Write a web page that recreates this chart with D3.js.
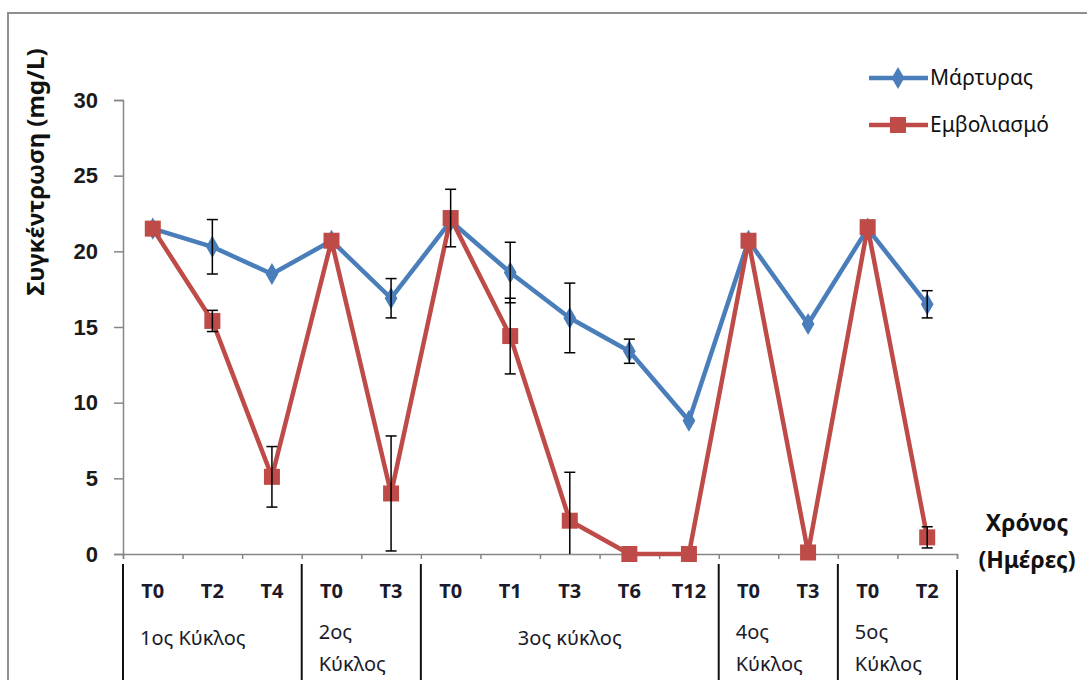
<!DOCTYPE html>
<html><head><meta charset="utf-8">
<script src="https://cdn.jsdelivr.net/npm/d3@7"></script>
<style>
html,body{margin:0;padding:0;background:#fff;}
svg{display:block;font-family:"Noto Sans","DejaVu Sans",sans-serif;}
</style></head>
<body>
<svg id="chart" width="1087" height="680"></svg>
<script>
// ---- data ----
const categories = ["T0","T2","T4","T0","T3","T0","T1","T3","T6","T12","T0","T3","T0","T2"];
const groupLabels = [["1ος Κύκλος"],["2ος","Κύκλος"],["3ος κύκλος"],["4ος","Κύκλος"],["5ος","Κύκλος"]];
const groupSizes = [3,2,5,2,2];
const controlValues = [21.5,20.3,18.5,20.7,16.9,22.0,18.6,15.6,13.4,8.8,20.7,15.2,21.5,16.5];
const controlErrors = [0,1.8,0,0,1.3,0,2.0,2.3,0.8,0,0,0,0,0.9];
const vaccValues = [21.5,15.4,5.1,20.7,4.0,22.2,14.4,2.2,0,0,20.7,0.1,21.6,1.1];
const vaccErrors = [0,0.7,2.0,0,3.8,1.9,2.5,3.2,0,0,0,0,0,0.7];
const seriesNames = ["Μάρτυρας","Εμβολιασμό"];
const yTicks = [0,5,10,15,20,25,30];

const svg = d3.select("#chart");
const blue = "#4a7ebb", red = "#be4b48";
const x0 = 123, x1 = 957, yTop = 100, yBot = 554;

const x = d3.scaleBand().domain(d3.range(categories.length)).range([x0,x1]);
const xb = d3.scaleLinear().domain([0,categories.length]).range([x0,x1]);
const y = d3.scaleLinear().domain([0,30]).range([yBot,yTop]);

// outer frame
svg.append("path").attr("d",`M8,680 L8,13 L1087,13`).attr("fill","none")
  .attr("stroke","#8f8f8f").attr("stroke-width",2);

// y axis
const ya = svg.append("g").attr("transform",`translate(${x0},0)`)
  .call(d3.axisLeft(y).tickValues(yTicks).tickSize(9).tickPadding(16));
ya.select(".domain").attr("stroke","#868686").attr("stroke-width",1.5);
ya.selectAll(".tick line").attr("stroke","#868686").attr("stroke-width",1.5);
ya.selectAll(".tick text").attr("font-size",22).attr("font-weight","bold").attr("fill","#1a1a1a");

// x axis (boundary ticks)
const xa = svg.append("g").attr("transform",`translate(0,${yBot})`)
  .call(d3.axisBottom(xb).tickValues(d3.range(categories.length+1)).tickSize(5).tickFormat(""));
xa.select(".domain").attr("stroke","#868686").attr("stroke-width",1.5);
xa.selectAll(".tick line").attr("stroke","#868686").attr("stroke-width",1.5);

// category labels
svg.append("g").selectAll("text").data(categories).join("text")
  .attr("x",(d,i)=>x(i)+x.bandwidth()/2).attr("y",598)
  .attr("text-anchor","middle").attr("font-size",20).attr("font-weight","bold")
  .attr("fill","#1a1a2a").text(d=>d);

// group separators and labels
let starts = [0];
groupSizes.forEach((s,i)=>starts.push(starts[i]+s));
svg.append("g").selectAll("line").data(starts).join("line")
  .attr("x1",d=>xb(d)).attr("x2",d=>xb(d))
  .attr("y1",(d,i)=>i===starts.length-1?570:564).attr("y2",680)
  .attr("stroke","#111").attr("stroke-width",2);

const gl = svg.append("g");
groupLabels.forEach((lines,i)=>{
  const left = xb(starts[i]);
  const mid = (xb(starts[i])+xb(starts[i+1]))/2;
  const centered = lines.length===1 && i===2;
  const t = gl.append("text")
    .attr("x", centered?mid:left+17).attr("text-anchor",centered?"middle":"start")
    .attr("font-size",20).attr("fill","#1a1a2a");
  lines.forEach((ln,j)=>{
    t.append("tspan").attr("x",centered?mid:left+17).attr("y",(lines.length===1?645:639)+j*32).text(ln);
  });
});

// lines
const line = d3.line().x((d,i)=>x(i)+x.bandwidth()/2).y(d=>y(d));
svg.append("path").datum(controlValues).attr("d",line).attr("fill","none")
  .attr("stroke",blue).attr("stroke-width",4.5).attr("stroke-linejoin","round");
svg.append("g").selectAll("path").data(controlValues).join("path")
  .attr("d",d3.symbol(d3.symbolDiamond,140)())
  .attr("transform",(d,i)=>`translate(${x(i)+x.bandwidth()/2},${y(d)})`)
  .attr("fill",blue);

svg.append("path").datum(vaccValues).attr("d",line).attr("fill","none")
  .attr("stroke",red).attr("stroke-width",4.5).attr("stroke-linejoin","round");
svg.append("g").selectAll("rect").data(vaccValues).join("rect")
  .attr("x",(d,i)=>x(i)+x.bandwidth()/2-8).attr("y",d=>y(d)-8)
  .attr("width",16).attr("height",16).attr("fill",red);

// error bars
function errBars(vals,errs){
  const g = svg.append("g").attr("stroke","#000").attr("stroke-width",1.5);
  vals.forEach((v,i)=>{
    const e = errs[i]; if(!e) return;
    const cx = x(i)+x.bandwidth()/2;
    const lo = Math.max(0,v-e), hi = v+e;
    g.append("line").attr("x1",cx).attr("x2",cx).attr("y1",y(hi)).attr("y2",y(lo));
    g.append("line").attr("x1",cx-5.5).attr("x2",cx+5.5).attr("y1",y(hi)).attr("y2",y(hi));
    if(v-e>0) g.append("line").attr("x1",cx-5.5).attr("x2",cx+5.5).attr("y1",y(lo)).attr("y2",y(lo));
  });
}
errBars(controlValues,controlErrors);
errBars(vaccValues,vaccErrors);

// y title
svg.append("text").attr("transform","translate(44,172) rotate(-90)")
  .attr("text-anchor","middle").attr("font-size",24).attr("font-weight","bold")
  .attr("fill","#111").text("Συγκέντρωση (mg/L)");

// x title
const xt = svg.append("text").attr("text-anchor","middle").attr("font-size",23)
  .attr("font-weight","bold").attr("fill","#111");
xt.append("tspan").attr("x",1027).attr("y",531).text("Χρόνος");
xt.append("tspan").attr("x",1027).attr("y",568).text("(Ημέρες)");

// legend
const lg = svg.append("g");
[[blue,78],[red,125]].forEach(([c,ly],i)=>{
  lg.append("line").attr("x1",869).attr("x2",928).attr("y1",ly).attr("y2",ly)
    .attr("stroke",c).attr("stroke-width",4.5);
  if(i===0) lg.append("path").attr("d",d3.symbol(d3.symbolDiamond,140)())
    .attr("transform",`translate(898,${ly})`).attr("fill",c);
  else lg.append("rect").attr("x",890).attr("y",ly-8).attr("width",16).attr("height",16).attr("fill",c);
  lg.append("text").attr("x",930).attr("y",ly+7).attr("font-size",21).attr("fill","#111").text(seriesNames[i]);
});
</script>
</body></html>
